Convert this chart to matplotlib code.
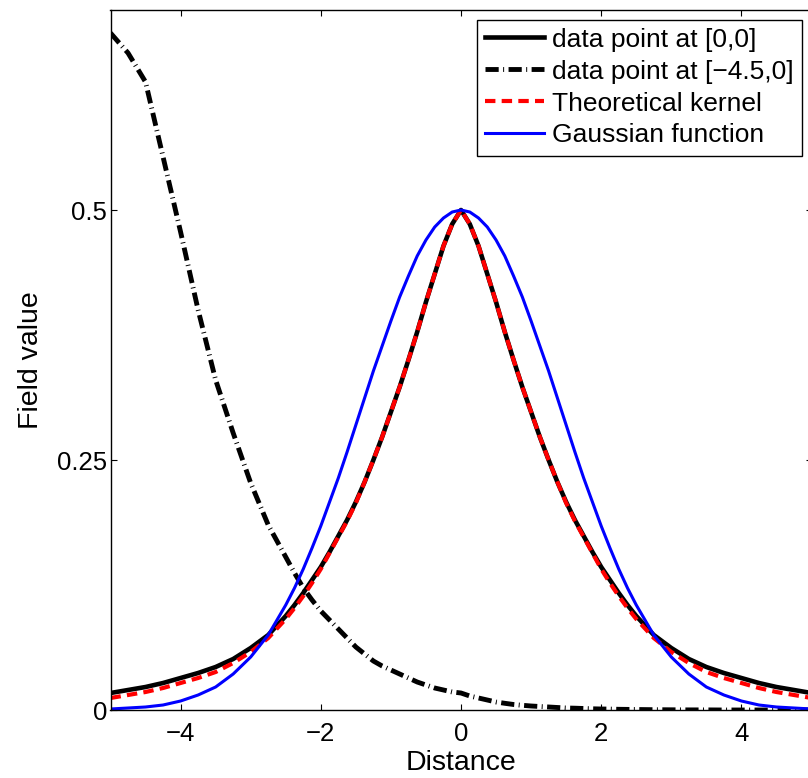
import matplotlib
matplotlib.use("Agg")
import matplotlib.pyplot as plt

plt.rcParams['font.family'] = ['Liberation Sans', 'DejaVu Sans']
plt.rcParams['lines.scale_dashes'] = False

distance = [-5.0, -4.75, -4.5, -4.25, -4.0, -3.75, -3.5, -3.25, -3.0, -2.75,
            -2.5, -2.375, -2.25, -2.125, -2.0, -1.875, -1.75, -1.625, -1.5, -1.375,
            -1.25, -1.125, -1.0, -0.875, -0.75, -0.625, -0.5, -0.375, -0.25, -0.125,
            0.0,
            0.125, 0.25, 0.375, 0.5, 0.625, 0.75, 0.875, 1.0, 1.125, 1.25,
            1.375, 1.5, 1.625, 1.75, 1.875, 2.0, 2.125, 2.25, 2.375, 2.5,
            2.75, 3.0, 3.25, 3.5, 3.75, 4.0, 4.25, 4.5, 4.75, 5.0]

point_00 = [0.017, 0.020, 0.023, 0.027, 0.032, 0.037, 0.043, 0.051, 0.062, 0.075,
            0.094, 0.105, 0.117, 0.130, 0.143, 0.158, 0.174, 0.190, 0.208, 0.228,
            0.250, 0.273, 0.298, 0.323, 0.350, 0.378, 0.408, 0.436, 0.464, 0.486,
            0.500,
            0.486, 0.464, 0.436, 0.408, 0.378, 0.350, 0.323, 0.298, 0.273, 0.250,
            0.228, 0.208, 0.190, 0.174, 0.158, 0.143, 0.130, 0.117, 0.105, 0.094,
            0.075, 0.062, 0.051, 0.043, 0.037, 0.032, 0.027, 0.023, 0.020, 0.017]

point_m45 = [0.677, 0.657, 0.628, 0.553, 0.478, 0.400, 0.330, 0.277, 0.227, 0.185,
             0.153, 0.137, 0.122, 0.110, 0.099, 0.090, 0.081, 0.072, 0.063, 0.056,
             0.049, 0.044, 0.040, 0.036, 0.032, 0.028, 0.025, 0.022, 0.020, 0.018,
             0.017,
             0.014, 0.012, 0.010, 0.008, 0.0067, 0.0055, 0.0047, 0.004, 0.0035, 0.003,
             0.0025, 0.002, 0.0018, 0.0015, 0.0012, 0.001, 0.0009, 0.0007, 0.0006, 0.0005,
             0.0003, 0.0002, 0.0001, 0.0001, 0.0, 0.0, 0.0, 0.0, 0.0, 0.0]

theory = [0.012, 0.015, 0.018, 0.022, 0.027, 0.032, 0.038, 0.047, 0.058, 0.072,
          0.091, 0.102, 0.114, 0.127, 0.141, 0.157, 0.173, 0.189, 0.207, 0.228,
          0.250, 0.273, 0.298, 0.323, 0.350, 0.378, 0.408, 0.436, 0.464, 0.486,
          0.500,
          0.486, 0.464, 0.436, 0.408, 0.378, 0.350, 0.323, 0.298, 0.273, 0.250,
          0.228, 0.207, 0.189, 0.173, 0.157, 0.141, 0.127, 0.114, 0.102, 0.091,
          0.072, 0.058, 0.047, 0.038, 0.032, 0.027, 0.022, 0.018, 0.015, 0.012]

gauss = [0.001, 0.002, 0.003, 0.005, 0.009, 0.015, 0.023, 0.036, 0.053, 0.075,
         0.105, 0.122, 0.141, 0.162, 0.184, 0.208, 0.232, 0.258, 0.285, 0.312,
         0.339, 0.364, 0.389, 0.413, 0.434, 0.454, 0.470, 0.483, 0.492, 0.498,
         0.500,
         0.498, 0.492, 0.483, 0.470, 0.454, 0.434, 0.413, 0.389, 0.364, 0.339,
         0.312, 0.285, 0.258, 0.232, 0.208, 0.184, 0.162, 0.141, 0.122, 0.105,
         0.075, 0.053, 0.036, 0.023, 0.015, 0.009, 0.005, 0.003, 0.002, 0.001]

labels = ["data point at [0,0]", "data point at [\u22124.5,0]",
          "Theoretical kernel", "Gaussian function"]
xticks = [-4, -2, 0, 2, 4]
yticks = [0, 0.25, 0.5]
yticklabels = ["0", "0.25", "0.5"]

fig = plt.figure(figsize=(8.08, 7.78), dpi=100)
ax = fig.add_axes([110.5 / 808, 68 / 778, 701 / 808, 700 / 778])

ax.plot(distance, point_00, color='black', lw=3.3, label=labels[0])
ax.plot(distance, point_m45, color='black', lw=3.5,
        linestyle=(0, (9.5, 3.2, 0.7, 3.2)), label=labels[1])
ax.plot(distance, theory, color='#ff0000', lw=3.0,
        linestyle=(0, (7.5, 4.5)), label=labels[2])
ax.plot(distance, gauss, color='#0000ff', lw=2.2, label=labels[3])

ax.set_xlim(-5, 5)
ax.set_ylim(0, 0.7)
ax.set_xticks(xticks)
ax.set_xticklabels([str(t).replace('-', '\u2212') for t in xticks])
ax.set_yticks(yticks)
ax.set_yticklabels(yticklabels)
ax.tick_params(direction='in', length=4.5, width=0.8, top=True, right=True,
               labelsize=18.5)
ax.tick_params(axis='x', pad=8.5)
ax.tick_params(axis='y', pad=2.5)
for s in ax.spines.values():
    s.set_linewidth(1.0)

ax.set_xlabel("Distance", fontsize=20.5, labelpad=3)
ax.set_ylabel("Field value", fontsize=20.5, labelpad=9)

leg = ax.legend(loc='upper right', fontsize=19, frameon=True, fancybox=False,
                edgecolor='black', framealpha=1, handlelength=2.25,
                handletextpad=0.3, labelspacing=0.3, borderpad=0.31,
                borderaxespad=0.36)
leg.get_frame().set_linewidth(1.0)

fig.savefig("out.png", dpi=100)
